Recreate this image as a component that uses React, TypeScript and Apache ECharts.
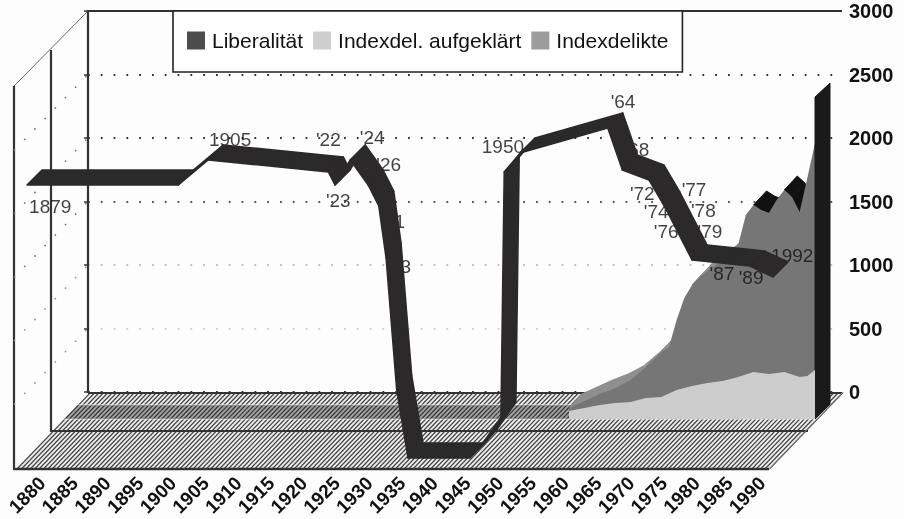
import React, { useEffect, useRef } from "react";
import * as echarts from "echarts";

const axisYears = ["1880","1885","1890","1895","1900","1905","1910","1915","1920","1925","1930","1935","1940","1945","1950","1955","1960","1965","1970","1975","1980","1985","1990"];

const liberalYears = [1879,1901.8,1906.3,1924.4,1925.4,1927.7,1930.4,1932,1933.1,1934.7,1936.4,1945.7,1947.6,1950.4,1950.9,1953.3,1966.5,1968.7,1972.7,1975.1,1979.2,1987.9,1991.4];
const liberalValues = [2236,2236,2433,2339,2236,2433,2236,2071,1661,622,87,87,197,409,2339,2488,2685,2354,2276,2063,1646,1598,1512];

const indexYears = [1960,1962,1964,1966,1968,1970,1972,1973,1974,1975,1976,1977,1978,1980,1981,1982,1983,1984,1985,1986,1987,1988,1989,1990,1991,1992];
const indexValues = [87,142,197,244,307,409,528,567,780,953,1055,1118,1165,1252,1299,1370,1606,1685,1646,1622,1724,1803,1748,1630,1898,2173];

const clearedYears = [1960,1964,1966,1968,1970,1972,1974,1976,1978,1980,1982,1984,1985,1986,1988,1990,1991,1992];
const clearedValues = [63,110,126,134,165,173,228,260,283,299,331,370,362,354,370,331,339,386];

const sideYear = 1992;
const sideTop = 2535;

const noteTexts = ["1879","1905","'22","'23","'24","'26","'31","'33","1950","'64","'68","'72","'74","'76","'77","'78","'79","'87","'89","1992"];
const noteYears = [1882.5,1909.6,1924.4,1925.9,1931,1933.5,1934.1,1935,1950.7,1968.8,1970.9,1971.7,1973.8,1975.3,1979.5,1980.9,1981.9,1983.7,1988.1,1994.3];
const noteValues = [2063,2591,2591,2118,2614,2394,1945,1598,2543,2890,2512,2173,2024,1874,2197,2039,1874,1543,1504,1685];

const FONT = "Liberation Sans";
const DEPTH = { x: 13, y: -14 };
const RIBBON = { x: 15, y: -15 };
const INK = "#111111";

function quad(a: number[], b: number[], c: number[], d: number[], fill: string, stroke: string, lw = 1) {
  return { type: "polygon", shape: { points: [a, b, c, d] }, style: { fill, stroke, lineWidth: lw, lineJoin: "round" } };
}

function ribbonItem(years: number[], values: number[], color: string) {
  return (params: any, api: any) => {
    const i = params.dataIndex;
    if (i >= years.length - 1) return { type: "group", children: [] };
    const a = api.coord([years[i], values[i]]);
    const b = api.coord([years[i + 1], values[i + 1]]);
    return quad(a, b, [b[0] + RIBBON.x, b[1] + RIBBON.y], [a[0] + RIBBON.x, a[1] + RIBBON.y], color, color, 1.5);
  };
}

function surfaceItem(params: any, api: any) {
  const i = params.dataIndex;
  if (i >= indexYears.length - 1) return { type: "group", children: [] };
  const a = api.coord([indexYears[i], indexValues[i]]);
  const b = api.coord([indexYears[i + 1], indexValues[i + 1]]);
  const rise = (a[1] - b[1]) / (b[0] - a[0]);
  if (rise > -DEPTH.y / DEPTH.x) return { type: "group", children: [] };
  const falling = rise < 0;
  return quad(a, b, [b[0] + DEPTH.x, b[1] + DEPTH.y], [a[0] + DEPTH.x, a[1] + DEPTH.y],
    falling ? "#111" : "#8f8f8f", falling ? "#111" : "#8f8f8f");
}

function sideItem(_p: any, api: any) {
  const top = api.coord([sideYear, sideTop]);
  const base = api.coord([sideYear, 0]);
  return quad(base, top, [top[0] + 15, top[1] - 14], [base[0] + 15, base[1] - 15], "#1a1a1a", "#1a1a1a");
}

function chrome() {
  const els: any[] = [];
  const L = (x1: number, y1: number, x2: number, y2: number, w = 2, c = "#333", dash?: number[]) =>
    els.push({ type: "line", z: -5, shape: { x1, y1, x2, y2 }, style: { stroke: c, lineWidth: w, lineDash: dash } });
  const pts: number[][] = [];
  const STEP = 4.4;
  for (let x = 17; x < 769; x += STEP) {
    pts.push([x, 469], [x + 73, 393], [x + 73 + STEP, 393], [x + STEP, 469]);
  }
  els.push({ type: "polygon", z: -6, shape: { points: [[17, 469], [90, 393], [842, 393], [769, 469]] }, style: { fill: "#eeeeee" } });
  els.push({ type: "polyline", z: -5, shape: { points: pts }, style: { stroke: "#454545", lineWidth: 1.2, fill: "none" } });
  els.push({ type: "polygon", z: -4, shape: { points: [[64, 419], [78, 405], [580, 405], [570, 419]] }, style: { fill: "rgba(40,40,40,0.38)" } });
  L(78, 405, 575, 405, 1, "#eee");
  L(64, 419, 815, 419, 1, "#eee");
  L(14, 86, 14, 470, 2.2);
  L(51, 50, 51, 432, 2.2);
  L(88, 11, 88, 393, 2.2);
  L(88, 11, 842, 11, 2);
  L(14, 86, 88, 11, 1, "#666");
  L(88, 393, 842, 393, 2.2);
  L(51, 431, 808, 431, 2.2);
  L(14, 469, 769, 469, 2.4);
  L(769, 469, 842, 393, 1, "#888");
  [2500, 2000, 1500, 1000, 500].forEach((v) => {
    const y = 392 - v * 0.127;
    L(14, y + 76, 88, y, 1.6, v > 1000 ? "#777" : "#999", [1.6, 13]);
  });
  return els;
}

export default function App() {
  const ref = useRef<HTMLDivElement>(null);
  useEffect(() => {
    if (!ref.current) return;
    const chart = echarts.init(ref.current, undefined, { renderer: "svg" });
    const hiddenY = (gridIndex: number) => ({ type: "value", gridIndex, min: 0, max: 3000, show: false, splitLine: { show: false } });
    const base = { animation: false, silent: true };
    const pair = (xs: number[], ys: number[]) => xs.map((x, i) => [x, ys[i]]);
    chart.setOption({
      animation: false,
      backgroundColor: "#fdfdfd",
      textStyle: { fontFamily: FONT },
      graphic: chrome(),
      legend: {
        data: ["Liberalität", "Indexdel. aufgeklärt", "Indexdelikte"],
        left: 173,
        top: 11,
        icon: "rect",
        itemWidth: 18,
        itemHeight: 18,
        itemGap: 10,
        padding: [19, 14, 21, 14],
        backgroundColor: "#fff",
        borderColor: "#222",
        borderWidth: 1.6,
        textStyle: { fontFamily: FONT, fontSize: 21, color: INK, padding: [0, 0, 0, 2] },
        selectedMode: false,
        z: 10,
      },
      grid: [
        { left: 88, width: 754, top: 11, height: 381 },
        { left: 27, width: 750, top: 88, height: 381 },
        { left: 42, width: 720, top: 88, height: 381 },
        { left: 569, width: 246, top: 38, height: 381 },
      ],
      xAxis: [
        { type: "value", gridIndex: 0, min: 0, max: 1, show: false, splitLine: { show: false } },
        { type: "value", gridIndex: 1, min: 1879, max: 1992, show: false, splitLine: { show: false } },
        {
          type: "category", gridIndex: 2, data: axisYears, boundaryGap: false,
          axisLine: { show: false }, axisTick: { show: false },
          axisLabel: { interval: 0, rotate: 45, margin: 11, fontFamily: FONT, fontSize: 19, fontWeight: "bold", color: INK },
          splitLine: { show: false },
        },
        { type: "value", gridIndex: 3, min: 1960, max: 1992, show: false, splitLine: { show: false } },
      ],
      yAxis: [
        {
          type: "value", gridIndex: 0, position: "right", min: 0, max: 3000, interval: 500,
          axisLine: { show: true, lineStyle: { color: "#333", width: 2 } },
          axisTick: { show: true, inside: true, length: 4, lineStyle: { color: "#333", width: 1.5 } },
          axisLabel: { margin: 7, fontFamily: FONT, fontSize: 20, fontWeight: "bold", color: "#111", formatter: (v: number) => String(v) },
          splitLine: { show: true, lineStyle: { type: [1.8, 11], width: 1.8, color: ["#333", "#d0d0d0", "#bdbdbd", "#555", "#333", "#333", "#333"] } },
        },
        hiddenY(1),
        hiddenY(2),
        hiddenY(3),
      ],
      series: [
        { ...base, name: "surface", type: "custom", xAxisIndex: 3, yAxisIndex: 3, z: 3, data: pair(indexYears, indexValues), renderItem: surfaceItem },
        { ...base, name: "Indexdelikte", type: "line", xAxisIndex: 3, yAxisIndex: 3, z: 4, data: pair(indexYears, indexValues), showSymbol: false, symbol: "none", lineStyle: { width: 0 }, itemStyle: { color: "#9c9c9c" }, areaStyle: { color: "#767676", opacity: 1 } },
        { ...base, name: "side", type: "custom", xAxisIndex: 3, yAxisIndex: 3, z: 5, data: [[sideYear, sideTop]], renderItem: sideItem },
        { ...base, name: "Indexdel. aufgeklärt", type: "line", xAxisIndex: 3, yAxisIndex: 3, z: 6, data: pair(clearedYears, clearedValues), showSymbol: false, symbol: "none", lineStyle: { width: 0 }, itemStyle: { color: "#cfcfcf" }, areaStyle: { color: "#cdcdcd", opacity: 1 } },
        {
          ...base, name: "notes", type: "scatter", xAxisIndex: 1, yAxisIndex: 1, z: 7, clip: false, symbolSize: 1,
          itemStyle: { color: "transparent" },
          data: noteTexts.map((t, i) => [noteYears[i], noteValues[i], t]),
          label: { show: true, position: "inside", formatter: (p: any) => p.data[2], fontFamily: FONT, fontSize: 19, color: INK },
        },
        { ...base, name: "Liberalität", type: "custom", xAxisIndex: 1, yAxisIndex: 1, z: 8, itemStyle: { color: "#4c4c4c" }, data: pair(liberalYears, liberalValues), renderItem: ribbonItem(liberalYears, liberalValues, "#2b2929") },
      ],
    });
    return () => chart.dispose();
  }, []);
  return <div ref={ref} style={{ position: "absolute", left: 0, top: 0, width: 904, height: 519, filter: "blur(0.4px)" }} />;
}
